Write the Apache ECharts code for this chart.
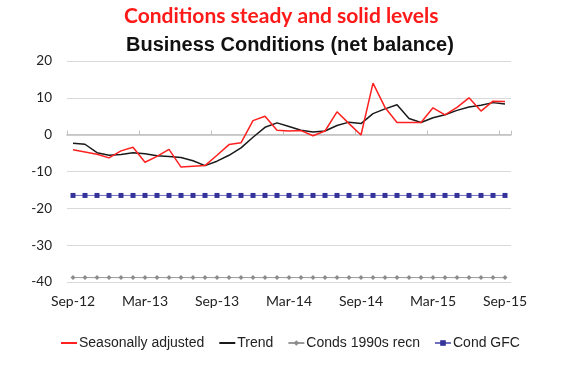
<!DOCTYPE html>
<html><head><meta charset="utf-8">
<script src="https://cdn.jsdelivr.net/npm/echarts@6/dist/echarts.min.js"></script>
<style>html,body{margin:0;padding:0;background:#fff}#c{width:573px;height:365px}</style>
</head><body><div id="c"></div>
<script>
var categories = ["Sep-12","Oct-12","Nov-12","Dec-12","Jan-13","Feb-13","Mar-13","Apr-13","May-13","Jun-13","Jul-13","Aug-13",
  "Sep-13","Oct-13","Nov-13","Dec-13","Jan-14","Feb-14","Mar-14","Apr-14","May-14","Jun-14","Jul-14","Aug-14",
  "Sep-14","Oct-14","Nov-14","Dec-14","Jan-15","Feb-15","Mar-15","Apr-15","May-15","Jun-15","Jul-15","Aug-15","Sep-15"];
var seasonallyAdjusted = [-4.1,-4.7,-5.3,-6.3,-4.4,-3.4,-7.5,-5.9,-4.0,-8.8,-8.6,-8.4,
  -5.6,-2.7,-2.2,3.8,5.0,1.2,1.0,1.1,-0.3,1.0,6.2,3.0,
  -0.1,14.0,7.4,3.3,3.3,3.3,7.3,5.4,7.4,10.0,6.4,9.1,9.0];
var trend = [-2.3,-2.6,-4.9,-5.6,-5.4,-4.9,-5.2,-5.7,-5.9,-6.2,-7.1,-8.4,
  -7.2,-5.6,-3.6,-0.7,2.0,3.2,2.2,1.2,0.7,1.0,2.5,3.4,
  3.0,5.7,7.0,8.1,4.4,3.3,4.6,5.4,6.6,7.5,8.0,8.7,8.3];
var conds1990sLevel = -38.8;
var condGFCLevel = -16.5;
var conds1990s = categories.map(function(){return conds1990sLevel;});
var condGFC = categories.map(function(){return condGFCLevel;});
var yTicks = {min:-40, max:20, interval:10};

var chart = echarts.init(document.getElementById('c'), null, {renderer:'canvas'});
chart.setOption({
  animation:false,
  title:[
    {text:'Conditions steady and solid levels', left:119, top:1,
     textStyle:{color:'#ff1a1a', fontFamily:'Lato', fontWeight:'bold', fontSize:21}},
    {text:'Business Conditions (net balance)', left:121, top:30,
     textStyle:{color:'#111', fontFamily:'Liberation Sans', fontWeight:'bold', fontSize:20}}
  ],
  grid:{left:67, right:62, top:61, bottom:83},
  legend:{
    left:55, top:331, itemWidth:16, itemHeight:7, itemGap:14,
    textStyle:{fontFamily:'Liberation Sans', fontSize:14, color:'#222', padding:[0,0,0,-3]},
    data:[
      {name:'Seasonally adjusted', itemStyle:{opacity:0}},
      {name:'Trend', itemStyle:{opacity:0}},
      'Conds 1990s recn','Cond GFC']
  },
  xAxis:[
    {type:'category', data:categories, boundaryGap:true,
     axisLine:{onZero:true, lineStyle:{color:'#bfbfbf', width:1.5}},
     axisTick:{show:true, inside:true, length:4, interval:5, lineStyle:{color:'#bfbfbf'}},
     axisLabel:{show:false}, splitLine:{show:false}},
    {type:'category', data:categories, boundaryGap:true, position:'bottom',
     axisLine:{show:false, onZero:false}, axisTick:{show:false},
     axisLabel:{show:true, interval:5, margin:12, fontFamily:'Lato', fontSize:14, color:'#222'},
     splitLine:{show:false}}
  ],
  yAxis:{type:'value', min:yTicks.min, max:yTicks.max, interval:yTicks.interval,
    axisLine:{show:false}, axisTick:{show:false},
    axisLabel:{margin:15, fontFamily:'Lato', fontSize:13.5, color:'#222'},
    splitLine:{lineStyle:{color:'#d9d9d9', width:1}}},
  series:[
    {name:'Seasonally adjusted', type:'line', data:seasonallyAdjusted, symbol:'none',
     lineStyle:{color:'#ff2020', width:1.5}, itemStyle:{color:'#ff2020'}, z:4},
    {name:'Trend', type:'line', data:trend, symbol:'none',
     lineStyle:{color:'#1a1a1a', width:1.5}, itemStyle:{color:'#1a1a1a'}, z:3},
    {name:'Conds 1990s recn', type:'line', data:conds1990s, symbol:'diamond', symbolSize:5,
     lineStyle:{color:'#999999', width:1}, itemStyle:{color:'#8c8c8c'}},
    {name:'Cond GFC', type:'line', data:condGFC, symbol:'rect', symbolSize:5,
     lineStyle:{color:'#7070c0', width:1}, itemStyle:{color:'#333399'}}
  ]
});
</script></body></html>
